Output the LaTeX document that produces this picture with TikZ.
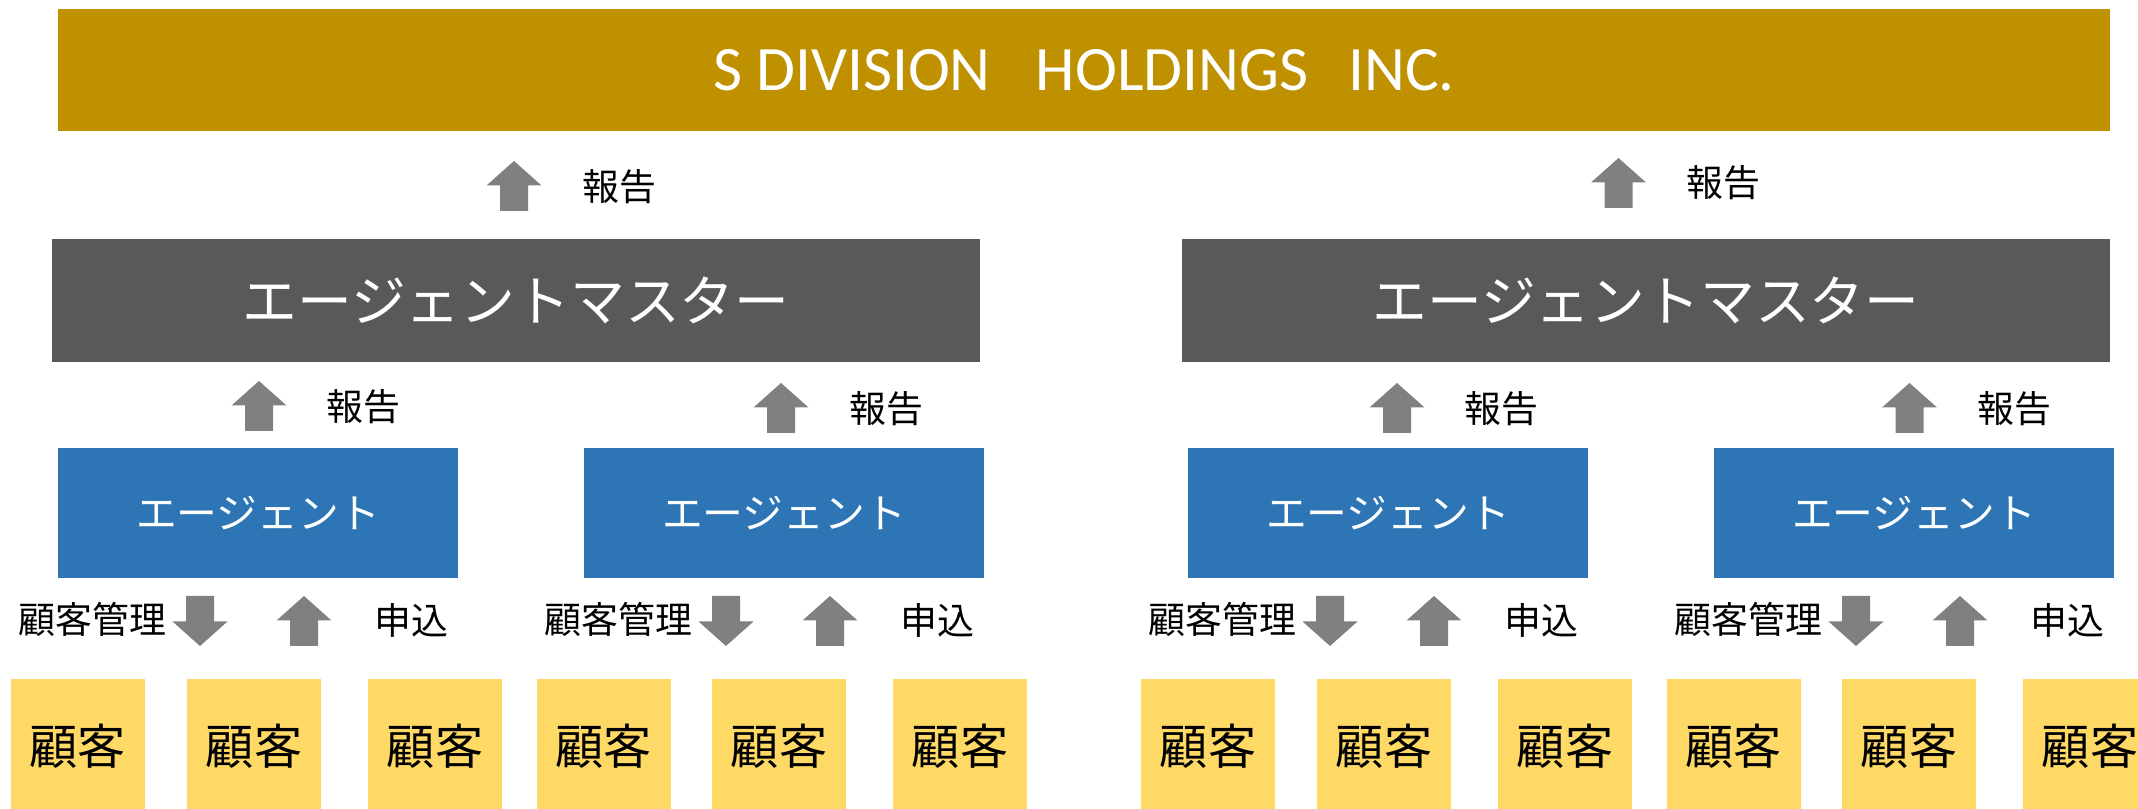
\documentclass[tikz,border=0pt]{standalone}
\usepackage{fontspec}
\setmainfont{Carlito}
\newfontfamily\jp{Noto Sans CJK JP}
\definecolor{hdgold}{HTML}{BF9000}
\definecolor{amgray}{HTML}{595959}
\definecolor{agblue}{HTML}{2E75B6}
\definecolor{cuyellow}{HTML}{FFD966}
\definecolor{argray}{HTML}{808080}
\tikzset{
	hdbox/.style={fill=hdgold,text=white,minimum width=20.52cm,minimum height=1.22cm,inner sep=0pt,font=\fontsize{18}{20}\selectfont},
	ambox/.style={fill=amgray,text=white,minimum width=9.28cm,minimum height=1.23cm,inner sep=0pt,font=\jp\fontsize{15.6}{18}\selectfont},
	agbox/.style={fill=agblue,text=white,minimum width=4cm,minimum height=1.3cm,inner sep=0pt,font=\jp\fontsize{11.6}{14}\selectfont},
	cubox/.style={fill=cuyellow,minimum width=1.34cm,minimum height=1.34cm,inner sep=0pt,font=\jp\fontsize{13.7}{16}\selectfont},
	lbl/.style={inner sep=0pt,font=\jp\fontsize{10.5}{12}\selectfont},
	uparr/.pic={\fill[argray] (-0.14,0)--(0.14,0)--(0.14,0.255)--(0.275,0.255)--(0,0.5)--(-0.275,0.255)--(-0.14,0.255)--cycle;}
}
\begin{document}
\begin{tikzpicture}[line join=round]
	\useasboundingbox (0,0) rectangle (21.38,-8.09);
	
	\node[hdbox] (hd) at (10.84,-0.705) {\raisebox{-0.05cm}{S DIVISION\hspace{0.45cm}HOLDINGS\hspace{0.40cm}INC.}};
	
	\node[ambox] (am1) at (5.16,-3.005) {エージェントマスター};
	\node[ambox] (am2) at (16.46,-3.005) {エージェントマスター};
	
	% report to holdings
	\pic at (5.14,-2.11) {uparr};
	\node[lbl] (r1) at (6.19,-1.87) {報告};
	\pic at (16.185,-2.08) {uparr};
	\node[lbl] (r2) at (17.235,-1.83) {報告};
	
	\node[agbox] (ag1) at (2.58,-5.13) {エージェント};
	\node[agbox] (ag2) at (7.84,-5.13) {エージェント};
	\node[agbox] (ag3) at (13.88,-5.13) {エージェント};
	\node[agbox] (ag4) at (19.14,-5.13) {エージェント};
	
	% report to master
	\pic at (2.59,-4.31) {uparr};
	\node[lbl] (r3) at (3.635,-4.065) {報告};
	\pic at (7.81,-4.33) {uparr};
	\node[lbl] (r4) at (8.86,-4.09) {報告};
	\pic at (13.97,-4.33) {uparr};
	\node[lbl] (r5) at (15.015,-4.09) {報告};
	\pic at (19.095,-4.33) {uparr};
	\node[lbl] (r6) at (20.14,-4.09) {報告};
	
	% agent <-> customers
	\foreach \x [count=\i] in {2.58,7.84,13.88,19.14}{
		\pic[rotate=180] at (\x-0.58,-5.96) {uparr};
		\pic at (\x+0.46,-6.46) {uparr};
		\node[lbl] (m\i) at (\x-1.655,-6.195) {顧客管理};
		\node[lbl] (s\i) at (\x+1.53,-6.2) {申込};
	}
	
	\foreach \x [count=\i] in {0.78,2.54,4.35,6.035,7.79,9.60,12.08,13.84,15.65,17.335,19.09,20.90}
		\node[cubox] (c\i) at (\x,-7.46) {顧客};
\end{tikzpicture}
\end{document}
